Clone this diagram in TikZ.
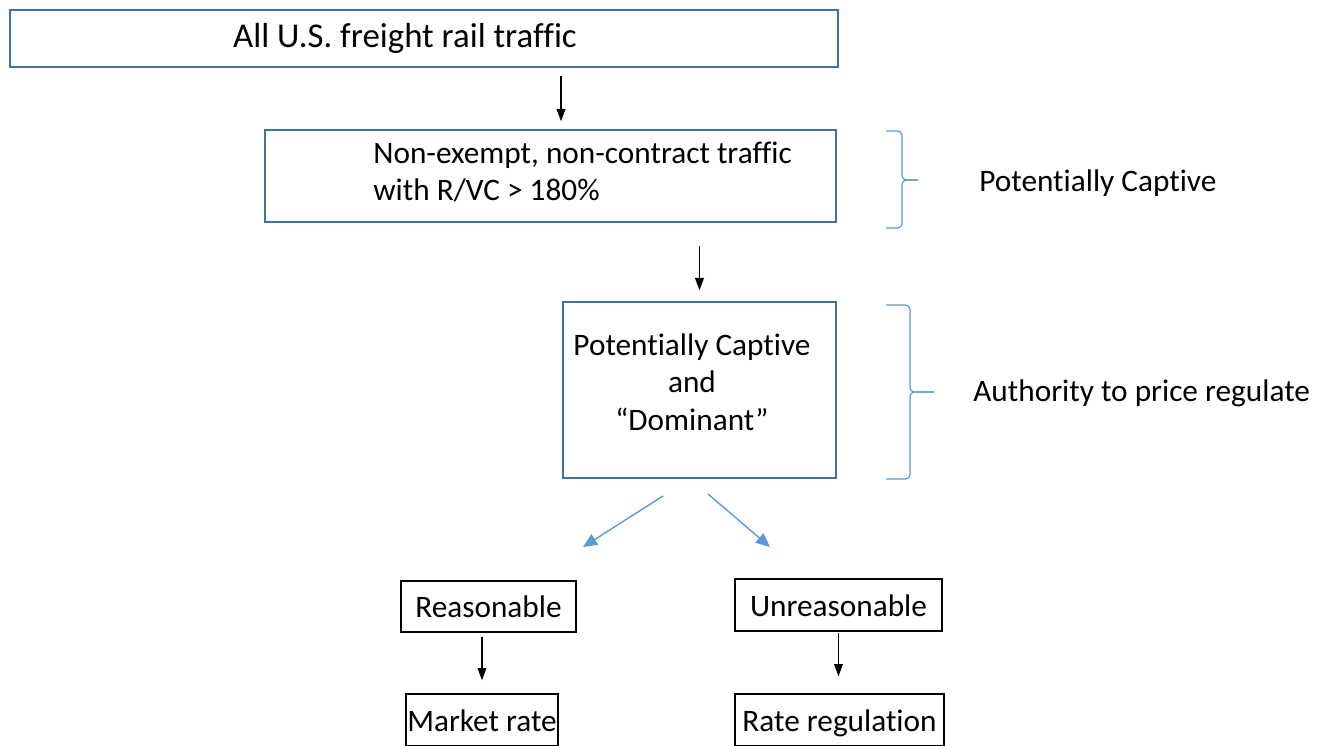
\documentclass[tikz,border=0pt]{standalone}
\usepackage{fontspec}
\setmainfont{Carlito}[Ligatures=NoCommon]
\usetikzlibrary{positioning,arrows.meta}
\definecolor{boxblue}{HTML}{41719C}
\definecolor{lineblue}{HTML}{5B9BD5}

\begin{document}
\begin{tikzpicture}
    [x=0.02cm, y=-0.02cm, font=\fontsize{17.8}{21.3}\selectfont,
     every node/.style={inner sep=0pt},
     bluebox/.style={draw=boxblue, line width=0.9pt, rectangle},
     blackbox/.style={draw=black, line width=0.8pt, rectangle, text height=0.57cm, text depth=0.13cm},
     arr/.style={-{Triangle[length=7pt, width=5pt]}, line width=0.7pt},
     bluearr/.style={-{Triangle[length=8pt, width=7pt]}, lineblue, line width=0.8pt},
     brc/.style={lineblue, line width=0.7pt, rounded corners=2.5pt}]
  \useasboundingbox (0,0) rectangle (1329,745);

  % boxes
  \node[bluebox, minimum width=16.56cm, minimum height=1.14cm, font=\fontsize{19.8}{24}\selectfont] (all) at (424,38.5) {All U.S. freight rail traffic\kern0.76cm};
  \node[bluebox, minimum width=11.42cm, minimum height=1.84cm] (nonexempt) at (550.5,176) {};
  \node[anchor=west, align=left] (nonexempttext) at (373,172) {Non-exempt, non-contract traffic\\with R/VC > 180\%};
  \node[bluebox, minimum width=5.46cm, minimum height=3.52cm, align=center, text depth=0.32cm] (dominant) at (699.5,390) {Potentially Captive\kern0.3cm\\and\kern0.3cm\\“Dominant”\kern0.3cm};

  \node[blackbox, minimum width=3.5cm, minimum height=1.02cm] (reasonable) at (488.5,606.5) {Reasonable};
  \node[blackbox, minimum width=4.14cm, minimum height=1.04cm] (unreasonable) at (838.5,605) {Unreasonable};
  \node[blackbox, minimum width=3.04cm, minimum height=1.04cm] (market) at (482,720) {Market rate};
  \node[blackbox, minimum width=4.18cm, minimum height=1.04cm] (rateregulation) at (839.5,720) {Rate regulation};

  % side labels
  \coordinate (b1top) at (886,131);
  \coordinate (b1tip) at (918,180);
  \coordinate (b1bot) at (886,228);
  \coordinate (b2top) at (886,305);
  \coordinate (b2tip) at (934,392);
  \coordinate (b2bot) at (886,479);
  \draw[brc] (b1top) -- (902,131) -- (902,180) -- (b1tip);
  \draw[brc] (b1tip) -- (902,180) -- (902,228) -- (b1bot);
  \draw[brc] (b2top) -- (910,305) -- (910,392) -- (b2tip);
  \draw[brc] (b2tip) -- (910,392) -- (910,479) -- (b2bot);
  \node[anchor=west] (captive) at (979,183) {Potentially Captive};
  \node[anchor=west] (authority) at (973,393) {Authority to price regulate};

  % arrows
  \draw[arr, shorten <=0.16cm, shorten >=0.16cm] ([xshift=0.21cm]nonexempt.north |- all.south) -- ([xshift=0.21cm]nonexempt.north);
  \draw[arr, shorten <=0.46cm, shorten >=0.22cm] (dominant.north |- nonexempt.south) -- (dominant.north);
  \draw[arr, shorten <=0.08cm, shorten >=0.26cm] (market.north |- reasonable.south) -- (market.north);
  \draw[arr, shorten <=0.02cm, shorten >=0.34cm] (unreasonable.south) -- (unreasonable.south |- rateregulation.north);

  \coordinate (s1) at (663,496);
  \coordinate (e1) at (583,547);
  \coordinate (s2) at (708,494);
  \coordinate (e2) at (770,547);
  \foreach \from/\to in {s1/e1, s2/e2}
    \draw[bluearr] (\from) -- (\to);
\end{tikzpicture}
\end{document}
